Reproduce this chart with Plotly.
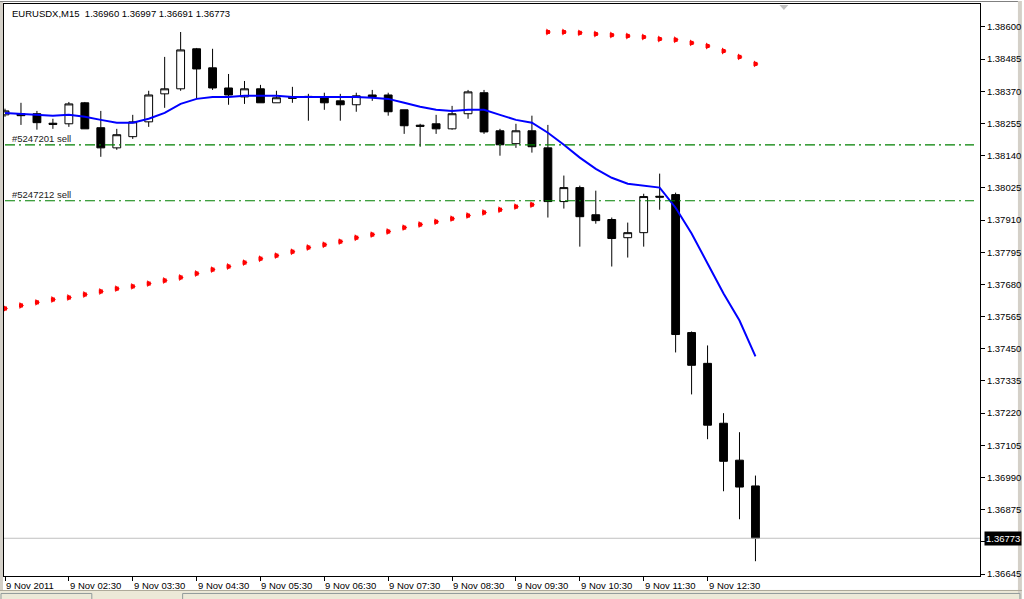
import plotly.graph_objects as go

# ---------------- data (EURUSDX, M15, 9 Nov 2011 01:30 .. 13:15) ----------------
opens = [1.38286, 1.38290, 1.38290, 1.38256, 1.38254, 1.38329, 1.38240, 1.38168,
         1.38208, 1.38261, 1.38361, 1.38379, 1.38522, 1.38454, 1.38382, 1.38350,
         1.38379, 1.38329, 1.38349, 1.38352, 1.38347, 1.38336, 1.38322, 1.38357,
         1.38357, 1.38304, 1.38249, 1.38254, 1.38236, 1.38290, 1.38365, 1.38229,
         1.38183, 1.38229, 1.38168, 1.37976, 1.38026, 1.37929, 1.37912, 1.37847,
         1.37865, 1.37995, 1.38001, 1.37508, 1.37398, 1.37184, 1.37052, 1.36960]
highs = [1.38308, 1.38329, 1.38300, 1.38272, 1.38332, 1.38332, 1.38300, 1.38236,
         1.38286, 1.38372, 1.38493, 1.38582, 1.38525, 1.38522, 1.38432, 1.38407,
         1.38393, 1.38372, 1.38386, 1.38361, 1.38365, 1.38361, 1.38365, 1.38375,
         1.38365, 1.38304, 1.38254, 1.38286, 1.38318, 1.38375, 1.38375, 1.38236,
         1.38254, 1.38283, 1.38250, 1.38069, 1.38033, 1.38015, 1.37919, 1.37901,
         1.38004, 1.38076, 1.38008, 1.37512, 1.37462, 1.37220, 1.37152, 1.36997]
lows = [1.38279, 1.38250, 1.38233, 1.38236, 1.38243, 1.38236, 1.38136, 1.38161,
        1.38200, 1.38243, 1.38311, 1.38372, 1.38343, 1.38375, 1.38322, 1.38325,
        1.38329, 1.38329, 1.38329, 1.38265, 1.38304, 1.38265, 1.38297, 1.38336,
        1.38283, 1.38218, 1.38172, 1.38218, 1.38233, 1.38272, 1.38218, 1.38140,
        1.38168, 1.38151, 1.37919, 1.37951, 1.37815, 1.37897, 1.37744, 1.37776,
        1.37815, 1.37947, 1.37437, 1.37287, 1.37127, 1.36941, 1.36841, 1.36691]
closes = [1.38300, 1.38283, 1.38258, 1.38252, 1.38325, 1.38236, 1.38168, 1.38215,
          1.38261, 1.38357, 1.38379, 1.38518, 1.38450, 1.38382, 1.38357, 1.38379,
          1.38329, 1.38347, 1.38345, 1.38349, 1.38329, 1.38322, 1.38354, 1.38350,
          1.38297, 1.38247, 1.38245, 1.38236, 1.38290, 1.38368, 1.38225, 1.38179,
          1.38229, 1.38172, 1.37976, 1.38026, 1.37922, 1.37908, 1.37844, 1.37865,
          1.37994, 1.37992, 1.37501, 1.37391, 1.37177, 1.37048, 1.36956, 1.36773]

ma_values = [1.38293, 1.38290, 1.38286, 1.38283, 1.38286, 1.38279, 1.38268, 1.38258,
             1.38258, 1.38272, 1.38293, 1.38325, 1.38343, 1.38350, 1.38350, 1.38354,
             1.38354, 1.38354, 1.38350, 1.38350, 1.38350, 1.38350, 1.38350, 1.38347,
             1.38343, 1.38329, 1.38315, 1.38304, 1.38300, 1.38304, 1.38304, 1.38286,
             1.38268, 1.38258, 1.38222, 1.38179, 1.38133, 1.38093, 1.38061, 1.38040,
             1.38033, 1.38026, 1.37954, 1.37862, 1.37755, 1.37648, 1.37551, 1.37423]

sar_below = [1.37594, 1.37605, 1.37616, 1.37626, 1.37633, 1.37644, 1.37655, 1.37665,
             1.37673, 1.37683, 1.37694, 1.37705, 1.37719, 1.37733, 1.37744, 1.37758,
             1.37772, 1.37783, 1.37797, 1.37812, 1.37822, 1.37833, 1.37847, 1.37858,
             1.37869, 1.37883, 1.37894, 1.37904, 1.37915, 1.37926, 1.37937, 1.37947,
             1.37958, 1.37965]
sar_above = [1.38582, 1.38582, 1.38579, 1.38575, 1.38571, 1.38568, 1.38564, 1.38557,
             1.38554, 1.38543, 1.38532, 1.38514, 1.38493, 1.38468]

order_prices = [1.38179, 1.37979]
order_labels = ["#5247201 sell", "#5247212 sell"]
last_price = 1.36773
last_label = "1.36773"
header_text = "EURUSDX,M15  1.36960 1.36997 1.36691 1.36773"

ytick_values = [1.36645, 1.36760, 1.36875, 1.36990, 1.37105, 1.37220, 1.37335,
                1.37450, 1.37565, 1.37680, 1.37795, 1.37910, 1.38025, 1.38140,
                1.38255, 1.38370, 1.38485, 1.38600]
# the 1.36760 label sits hidden behind the current-price box
ytick_labels = ["1.36645", "", "1.36875", "1.36990", "1.37105", "1.37220",
                "1.37335", "1.37450", "1.37565", "1.37680", "1.37795", "1.37910",
                "1.38025", "1.38140", "1.38255", "1.38370", "1.38485", "1.38600"]
xtick_bars = [0, 4, 8, 12, 16, 20, 24, 28, 32, 36, 40, 44]
xtick_labels = ["9 Nov 2011", "9 Nov 02:30", "9 Nov 03:30", "9 Nov 04:30",
                "9 Nov 05:30", "9 Nov 06:30", "9 Nov 07:30", "9 Nov 08:30",
                "9 Nov 09:30", "9 Nov 10:30", "9 Nov 11:30", "9 Nov 12:30"]

# ---------------- layout geometry ----------------
W, H = 1024, 599
ML, MR, MT, MB = 4, 42, 3, 23
PW, PH = W - ML - MR, H - MT - MB
FONT = "Liberation Sans, Arial, sans-serif"
FS = 9.5


def px(x):
    return (x - ML) / PW


def py(y):
    return (H - MB - y) / PH


bars = list(range(len(opens)))
first_above = len(sar_below)

fig = go.Figure()

fig.add_trace(go.Candlestick(
    x=bars, open=opens, high=highs, low=lows, close=closes,
    increasing=dict(line=dict(color="black", width=1), fillcolor="white"),
    decreasing=dict(line=dict(color="black", width=1), fillcolor="black"),
    whiskerwidth=0, hoverinfo="skip", showlegend=False,
))

fig.add_trace(go.Scatter(
    x=bars, y=ma_values, mode="lines",
    line=dict(color="#0000FF", width=2), hoverinfo="skip", showlegend=False,
))

sar_x = bars[:first_above] + bars[first_above:]
sar_y = sar_below + sar_above
fig.add_trace(go.Scatter(
    x=sar_x, y=sar_y, mode="markers",
    marker=dict(symbol="square", size=4, color="#FF0000", line=dict(width=0)),
    hoverinfo="skip", showlegend=False, cliponaxis=True,
))
fig.add_trace(go.Scatter(
    x=sar_x, y=sar_y, mode="markers",
    marker=dict(symbol="triangle-right", size=6, color="#FF0000", line=dict(width=0)),
    hoverinfo="skip", showlegend=False, cliponaxis=True,
))

shapes = []
for p in order_prices:
    shapes.append(dict(type="line", xref="paper", yref="y", x0=px(5), x1=px(976),
                       y0=p, y1=p, line=dict(color="#008000", width=1.2,
                                             dash="10px,4px,2px,4px")))
shapes.append(dict(type="line", xref="paper", yref="y", x0=0, x1=1,
                   y0=last_price, y1=last_price,
                   line=dict(color="#C0C0C0", width=1)))

# window chrome
shapes.append(dict(type="rect", xref="paper", yref="paper", x0=px(0), x1=px(W),
                   y0=py(H), y1=py(590), fillcolor="#ECE9D8", line=dict(width=0),
                   layer="below"))
shapes.append(dict(type="line", xref="paper", yref="paper", x0=px(0), x1=px(W),
                   y0=py(590.5), y1=py(590.5), line=dict(color="#ACA899", width=1)))
shapes.append(dict(type="rect", xref="paper", yref="paper", x0=px(1), x1=px(92),
                   y0=py(602), y1=py(593.5), fillcolor="#ECE9D8",
                   line=dict(color="#919B9C", width=1)))
shapes.append(dict(type="rect", xref="paper", yref="paper", x0=px(183), x1=px(1022),
                   y0=py(602), y1=py(593.5), fillcolor="#ECE9D8",
                   line=dict(color="#919B9C", width=1)))
shapes.append(dict(type="rect", xref="paper", yref="paper", x0=px(1020), x1=px(W),
                   y0=py(H), y1=py(0), fillcolor="#D4D0C8", line=dict(width=0),
                   layer="below"))
shapes.append(dict(type="rect", xref="paper", yref="paper", x0=px(0), x1=px(3),
                   y0=py(590), y1=py(0), fillcolor="#D4D0C8", line=dict(width=0),
                   layer="below"))
shapes.append(dict(type="line", xref="paper", yref="paper", x0=px(0), x1=px(1020),
                   y0=py(0.5), y1=py(0.5), line=dict(color="#808080", width=1)))
shapes.append(dict(type="path", xref="paper", yref="paper",
                   path="M {} {} L {} {} L {} {} Z".format(px(781), py(4), px(790), py(4),
                                                          px(785.5), py(9)),
                   fillcolor="#C0C0C0", line=dict(width=0)))

annotations = []
for lbl, p in zip(order_labels, order_prices):
    annotations.append(dict(x=px(10), y=p, xref="paper", yref="y", text=lbl,
                            showarrow=False, xanchor="left", yanchor="bottom",
                            yshift=-1, font=dict(family=FONT, size=FS, color="#222222")))
for b, lbl in zip(xtick_bars, xtick_labels):
    annotations.append(dict(x=b, y=0, xref="x", yref="paper", text=lbl,
                            showarrow=False, xanchor="left", yanchor="top",
                            xshift=-1, yshift=-2,
                            font=dict(family=FONT, size=FS, color="black")))
annotations.append(dict(x=px(10), y=1, xref="paper", yref="paper", text=header_text,
                        showarrow=False, xanchor="left", yanchor="top", yshift=-2,
                        font=dict(family=FONT, size=FS, color="black")))
annotations.append(dict(x=1, y=last_price, xref="paper", yref="y", text=last_label,
                        showarrow=False, xanchor="left", yanchor="middle", xshift=4,
                        bgcolor="black", borderpad=1,
                        font=dict(family=FONT, size=FS, color="white")))

fig.update_layout(
    width=W, height=H,
    margin=dict(l=ML, r=MR, t=MT, b=MB, pad=0),
    paper_bgcolor="white", plot_bgcolor="white",
    showlegend=False,
    font=dict(family=FONT, size=FS, color="black"),
    shapes=shapes, annotations=annotations,
    xaxis=dict(range=[-1 / 16, (982 - 5) / 16], rangeslider=dict(visible=False),
               showgrid=False, zeroline=False, showline=True, mirror=True,
               linecolor="black", linewidth=1,
               tickmode="array", tickvals=xtick_bars, ticktext=[""] * len(xtick_bars),
               ticks="outside", ticklen=4, tickcolor="black", showticklabels=False,
               fixedrange=True),
    yaxis=dict(range=[1.386 - (576 - 26) * 0.00115 / 32.24,
                      1.386 + (26 - 3) * 0.00115 / 32.24],
               side="right", showgrid=False, zeroline=False, showline=True,
               mirror=True, linecolor="black", linewidth=1,
               tickmode="array", tickvals=ytick_values, ticktext=ytick_labels,
               ticks="outside", ticklen=4, tickcolor="black",
               tickfont=dict(family=FONT, size=FS, color="black"), fixedrange=True),
)

fig.write_html("out.html", config={"displayModeBar": False},
               post_script="document.body.style.margin='0';document.body.style.overflow='hidden';")
